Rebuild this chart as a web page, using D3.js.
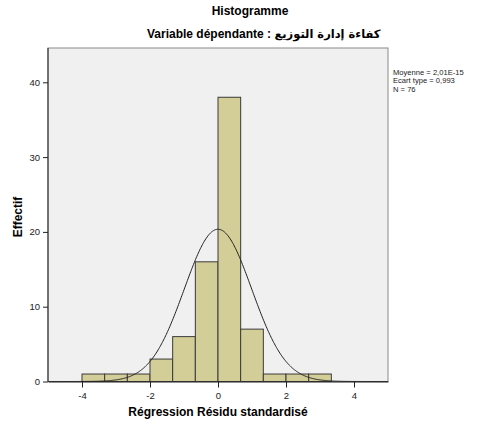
<!DOCTYPE html>
<html><head><meta charset="utf-8">
<script src="https://cdn.jsdelivr.net/npm/d3@7"></script>
<style>body{margin:0;background:#fff}svg{display:block}</style>
</head><body>
<script>
const binStarts = [-4, -3.3333, -2.6667, -2, -1.3333, -0.6667, 0, 0.6667, 1.3333, 2, 2.6667];
const binWidth = 0.6667;
const counts = [1, 1, 1, 3, 6, 16, 38, 7, 1, 1, 1];
const xTicks = [-4, -2, 0, 2, 4];
const yTicks = [0, 10, 20, 30, 40];
const meanVal = 0, sdVal = 0.993, nVal = 76;
const statsLines = ["Moyenne = 2,01E-15", "Ecart type = 0,993", "N = 76"];

const W = 478, H = 425;
const svg = d3.select("body").append("svg").attr("width", W).attr("height", H);
const L = 48, R = 388, T = 48, B = 381.5;
const x = d3.scaleLinear().domain([-5, 5]).range([L, R]);
const y = d3.scaleLinear().domain([0, 40]).range([B, 82.3]);
const font = "Arial, 'Liberation Sans', sans-serif";

svg.append("rect").attr("x", L).attr("y", T).attr("width", R - L).attr("height", B - T)
  .attr("fill", "#f0f0f0").attr("stroke", "#8a8a8a").attr("stroke-width", 1);

svg.append("g").selectAll("rect").data(counts).join("rect")
  .attr("x", (d, i) => x(binStarts[i]))
  .attr("width", (d, i) => x(binStarts[i] + binWidth) - x(binStarts[i]))
  .attr("y", d => y(d)).attr("height", d => y(0) - y(d))
  .attr("fill", "#d3ce97").attr("stroke", "#3a3a3a").attr("stroke-width", 1);

const pts = d3.range(-5, 5.001, 0.02).map(v => [v, nVal * binWidth / (sdVal * Math.sqrt(2 * Math.PI)) * Math.exp(-0.5 * ((v - meanVal) / sdVal) ** 2)]);
svg.append("path").datum(pts)
  .attr("d", d3.line().x(d => x(d[0])).y(d => y(d[1])).curve(d3.curveBasis))
  .attr("fill", "none").attr("stroke", "#222").attr("stroke-width", 1);

const xa = svg.append("g").attr("transform", `translate(0,${B})`)
  .call(d3.axisBottom(x).tickValues(xTicks).tickSize(6).tickSizeOuter(0).tickFormat(d => String(d)));
xa.select(".domain").attr("stroke", "#222");
xa.selectAll("text").attr("font-family", font).attr("font-size", 9.5).attr("fill", "#222").attr("dy", "0.9em");
xa.selectAll("line").attr("stroke", "#222");

const ya = svg.append("g").attr("transform", `translate(${L},0)`)
  .call(d3.axisLeft(y).tickValues(yTicks).tickSize(5).tickSizeOuter(0).tickFormat(d => String(d)));
ya.select(".domain").attr("stroke", "#222").attr("d", `M0,${T}V${B}`);
ya.selectAll("text").attr("font-family", font).attr("font-size", 9.5).attr("fill", "#222");
ya.selectAll("line").attr("stroke", "#222");

svg.append("text").attr("x", 250).attr("y", 15).attr("text-anchor", "middle")
  .attr("font-family", font).attr("font-size", 12).attr("font-weight", "bold").text("Histogramme");
const sub = svg.append("text").attr("x", 147).attr("y", 38).attr("text-anchor", "start")
  .attr("font-family", font).attr("font-size", 12).attr("font-weight", "bold");
sub.append("tspan").text("Variable dépendante : ");
sub.append("tspan").attr("font-family", "'DejaVu Sans', sans-serif").attr("font-size", 11.5)
  .text("كفاءة إدارة التوزيع");

svg.append("text").attr("x", 218).attr("y", 416).attr("text-anchor", "middle")
  .attr("font-family", font).attr("font-size", 12).attr("font-weight", "bold").text("Régression Résidu standardisé");
svg.append("text").attr("transform", "translate(22,217) rotate(-90)").attr("text-anchor", "middle")
  .attr("font-family", font).attr("font-size", 12).attr("font-weight", "bold").text("Effectif");

svg.append("g").selectAll("text").data(statsLines).join("text")
  .attr("x", 393).attr("y", (d, i) => 75 + i * 8.4)
  .attr("font-family", font).attr("font-size", 7.6).attr("fill", "#222").text(d => d);
</script>
</body></html>
